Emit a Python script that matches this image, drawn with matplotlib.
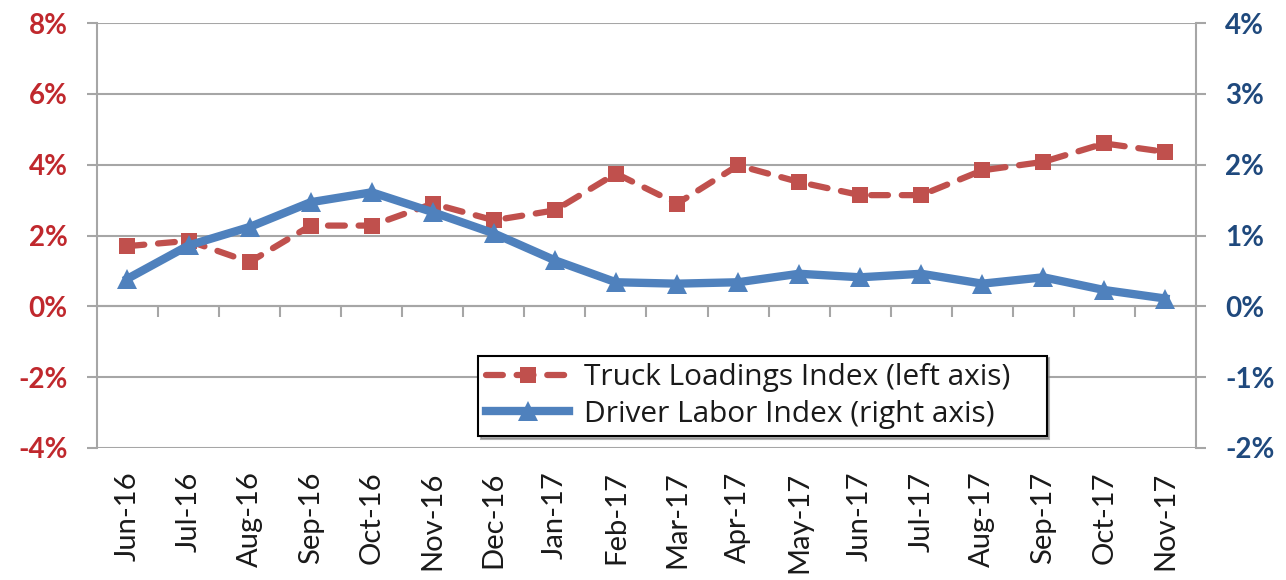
import numpy as np
import matplotlib.pyplot as plt
from matplotlib.ticker import FuncFormatter, FixedLocator

plt.rcParams['font.family'] = ['Lato', 'DejaVu Sans']

months = ['Jun-16', 'Jul-16', 'Aug-16', 'Sep-16', 'Oct-16', 'Nov-16', 'Dec-16',
          'Jan-17', 'Feb-17', 'Mar-17', 'Apr-17', 'May-17', 'Jun-17', 'Jul-17',
          'Aug-17', 'Sep-17', 'Oct-17', 'Nov-17']
# percent values
truck_loadings = [1.7, 1.85, 1.25, 2.28, 2.28, 2.9, 2.43, 2.71, 3.75, 2.9,
                  3.98, 3.51, 3.14, 3.14, 3.84, 4.08, 4.6, 4.36]
driver_labor = [0.39, 0.86, 1.12, 1.47, 1.61, 1.33, 1.03, 0.65, 0.34, 0.32,
                0.34, 0.46, 0.41, 0.46, 0.32, 0.41, 0.23, 0.11]

RED = '#C0504D'
BLUE = '#4F81BD'
GRID = '#A6A6A6'
LEFT_TXT = '#C0282D'
RIGHT_TXT = '#1F497D'

fig = plt.figure(figsize=(12.86, 5.80), dpi=100)
ax = fig.add_axes([0.0754, 0.2276, 0.8546, 0.7327])
ax2 = ax.twinx()

x = np.arange(len(months))

ax.set_xlim(-0.5, len(months) - 0.5)
ax.set_ylim(-4, 8)
ax2.set_ylim(-2, 4)
ax.set_yticks(np.arange(-4, 9, 2))
ax2.set_yticks(np.arange(-2, 5, 1))

pct = FuncFormatter(lambda v, p: f'{v:.0f}%')
ax.yaxis.set_major_formatter(pct)
ax2.yaxis.set_major_formatter(pct)

# gridlines
for v in np.arange(-4, 9, 2):
    ax.axhline(v, color=GRID, lw=1.5, zorder=0)

for s in ['top', 'bottom']:
    ax.spines[s].set_visible(False)
    ax2.spines[s].set_visible(False)
ax2.spines['left'].set_visible(False)
ax.spines['right'].set_visible(False)
ax.spines['left'].set_color(GRID)
ax.spines['left'].set_linewidth(1.5)
ax2.spines['right'].set_color(GRID)
ax2.spines['right'].set_linewidth(1.5)

ax.tick_params(axis='y', length=7, width=1.5, color=GRID, labelsize=20,
               labelcolor=LEFT_TXT, pad=14)
ax2.tick_params(axis='y', length=7, width=1.5, color=GRID, labelsize=20,
                labelcolor=RIGHT_TXT, pad=14)
for lab in ax.get_yticklabels():
    lab.set_fontweight('bold')
for lab in ax2.get_yticklabels():
    lab.set_fontweight('bold')

# category labels at the bottom
ax.set_xticks(x)
ax.set_xticklabels(months, rotation=90, fontsize=21, color='#1a1a1a')
ax.tick_params(axis='x', length=0, pad=17)

# category axis crossing at 0 with boundary ticks
sec = ax.secondary_xaxis(1 / 3)
sec.xaxis.set_major_locator(FixedLocator(np.arange(0.5, len(months) - 0.5, 1)))
sec.tick_params(axis='x', direction='out', length=8, width=1.5, color=GRID,
                labelbottom=False, labeltop=False)
sec.spines['bottom'].set_color(GRID)
sec.spines['bottom'].set_linewidth(1.5)
sec.spines['top'].set_visible(False)

l1, = ax.plot(x, truck_loadings, color=RED, lw=4.5, dashes=(2.7, 2.2),
              dash_capstyle='round', marker='s', markersize=12,
              markeredgewidth=0, label='Truck Loadings Index (left axis)', zorder=3)
l2, = ax2.plot(x, driver_labor, color=BLUE, lw=6, marker='^', markersize=15,
               markeredgewidth=0, label='Driver Labor Index (right axis)', zorder=4)

ax2.set_zorder(ax.get_zorder() + 1)
ax.patch.set_visible(True)

leg = ax2.legend([l1, l2], [l1.get_label(), l2.get_label()],
                 loc='lower left', bbox_to_anchor=(0.347, 0.028, 0.517, 0.21),
                 mode='expand', frameon=True, fancybox=False,
                 prop={'family': 'Open Sans', 'size': 21.5},
                 shadow={'color': '#808080', 'alpha': 0.6}, handlelength=2.8,
                 handletextpad=0.5, borderpad=0.25, labelspacing=0.25,
                 borderaxespad=0)
leg.get_frame().set_edgecolor('black')
leg.get_frame().set_linewidth(1.5)
for t in leg.get_texts():
    t.set_color('#1a1a1a')

fig.savefig('out.png', dpi=100)
